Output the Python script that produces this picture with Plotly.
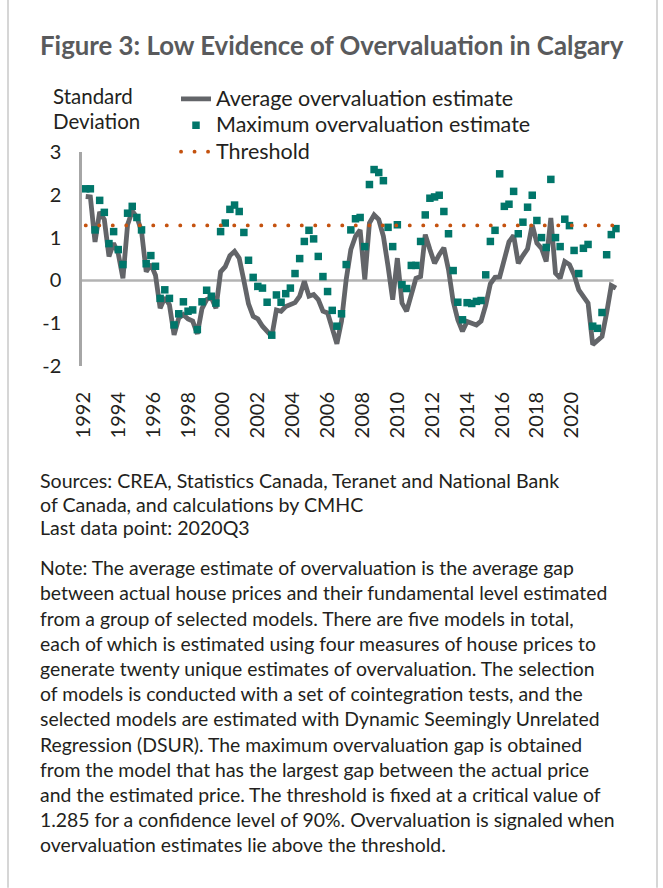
import plotly.graph_objects as go

# ---------------- data ----------------
YEAR_LABELS = ["1992", "1994", "1996", "1998", "2000", "2002", "2004", "2006",
               "2008", "2010", "2012", "2014", "2016", "2018", "2020"]

# Average overvaluation estimate (quarterly, 1992Q1 - 2020Q3)
avg_estimate = [
    1.96, 1.95, 0.90, 1.60, 1.42, 0.56, 0.87, 0.62, 0.05, 1.30,
    1.62, 1.48, 1.15, 0.20, 0.38, 0.12, -0.65, -0.40, -0.57, -1.27,
    -0.88, -0.80, -0.90, -0.95, -1.25, -0.66, -0.45, -0.40, -0.65, 0.20,
    0.32, 0.58, 0.68, 0.52, 0.00, -0.55, -0.84, -0.90, -1.07, -1.18,
    -1.31, -0.69, -0.72, -0.61, -0.57, -0.52, -0.37, -0.02, -0.37, -0.33,
    -0.45, -0.72, -0.76, -1.15, -1.48, -0.95, 0.02, 0.72, 1.03, 1.18,
    0.02, 1.34, 1.53, 1.42, 1.03, 0.33, -0.45, 0.52, -0.53, -0.72,
    -0.30, 0.05, 0.09, 1.07, 0.72, 0.40, 0.60, 0.76, 0.25, -0.49,
    -0.92, -1.19, -0.96, -1.00, -1.04, -0.95, -0.58, -0.08, 0.07, 0.08,
    0.45, 0.90, 1.05, 0.40, 0.58, 0.74, 1.30, 0.87, 0.75, 0.44,
    1.46, 0.17, 0.05, 0.44, 0.37, 0.13, -0.22, -0.37, -0.53, -1.50,
    -1.39, -1.31, -0.76, -0.12, -0.18,
]

# Maximum overvaluation estimate
max_estimate = [
    2.14, 2.14, 1.18, 1.87, 1.59, 0.86, 1.14, 0.72, 0.37, 1.57,
    1.73, 1.47, 1.18, 0.39, 0.58, 0.33, -0.42, -0.22, -0.42, -1.04,
    -0.78, -0.50, -0.72, -0.69, -1.15, -0.50, -0.23, -0.37, -0.53, 1.14,
    1.34, 1.66, 1.76, 1.61, 1.12, 0.47, 0.07, -0.14, -0.18, -0.51,
    -1.28, -0.34, -0.51, -0.31, -0.18, 0.16, 0.51, 0.91, 1.17, 0.97,
    0.56, 0.09, -0.26, -0.70, -1.07, -0.78, 0.37, 1.18, 1.44, 1.47,
    0.79, 2.24, 2.59, 2.52, 2.33, 1.24, 0.79, 1.30, -0.10, -0.19,
    0.35, 0.35, 0.91, 1.53, 1.92, 1.95, 1.99, 1.61, 1.09, 0.23,
    -0.51, -0.92, -0.52, -0.54, -0.49, -0.47, 0.13, 0.91, 1.17, 2.49,
    1.73, 1.78, 2.08, 1.09, 1.36, 1.71, 1.99, 1.40, 1.00, 0.77,
    2.36, 1.00, 0.79, 1.43, 1.28, 0.70, 0.16, 0.75, 0.84, -1.07,
    -1.12, -0.75, 0.60, 1.07, 1.21,
]

THRESHOLD = 1.285
Y_TICKS = [-2, -1, 0, 1, 2, 3]
Y_TICK_TEXT = ["-2", "-1", "0", "1", "2", "3"]

SERIES_NAMES = ["Average overvaluation estimate",
                "Maximum overvaluation estimate",
                "Threshold"]
TITLE = "Figure 3: Low Evidence of Overvaluation in Calgary"
Y_TITLE_LINES = ["Standard", "Deviation"]
SOURCE_LINES = [
    "Sources: CREA, Statistics Canada, Teranet and National Bank",
    "of Canada, and calculations by CMHC",
    "Last data point: 2020Q3",
]
NOTE_LINES = [
    "Note: The average estimate of overvaluation is the average gap",
    "between actual house prices and their fundamental level estimated",
    "from a group of selected models. There are five models in total,",
    "each of which is estimated using four measures of house prices to",
    "generate twenty unique estimates of overvaluation. The selection",
    "of models is conducted with a set of cointegration tests, and the",
    "selected models are estimated with Dynamic Seemingly Unrelated",
    "Regression (DSUR). The maximum overvaluation gap is obtained",
    "from the model that has the largest gap between the actual price",
    "and the estimated price. The threshold is fixed at a critical value of",
    "1.285 for a confidence level of 90%. Overvaluation is signaled when",
    "overvaluation estimates lie above the threshold.",
]

# ---------------- layout helpers ----------------
W, H = 663, 888
L, R, T, B = 82, 622, 152.3, 366.3
FONT = "Lato, 'Open Sans', sans-serif"
TXT = "#231F20"
LEG_SIZE = 21.5


def px_x(p):
    return (p - L) / (R - L)


def px_y(p):
    return (B - p) / (B - T)


def sized(s, size):
    return "<span style='font-size:%spx'>%s</span>" % (size, s)


x_idx = list(range(len(avg_estimate)))
tick_first, tick_step = -0.5, 7.5
tick_pos = [tick_first + tick_step * k for k in range(len(YEAR_LABELS))]

fig = go.Figure()
fig.add_trace(go.Scatter(
    x=x_idx, y=avg_estimate, mode="lines",
    name=sized(SERIES_NAMES[0], LEG_SIZE),
    line=dict(color="#636569", width=4.8),
))
fig.add_trace(go.Scatter(
    x=x_idx, y=max_estimate, mode="markers",
    name=sized(SERIES_NAMES[1], LEG_SIZE),
    marker=dict(symbol="square", size=7.5, color="#00766A"),
))
fig.add_trace(go.Scatter(
    x=[x_idx[0], x_idx[-1]], y=[THRESHOLD, THRESHOLD], mode="lines",
    name=sized(SERIES_NAMES[2], LEG_SIZE),
    line=dict(color="#C4520F", width=3.8, dash="3.6px,9.8px"),
))

annotations = []


def ann(text, x, y, size, color=TXT, xanchor="left"):
    annotations.append(dict(
        text=text, x=px_x(x), y=px_y(y), xref="paper", yref="paper",
        xanchor=xanchor, yanchor="middle", showarrow=False,
        font=dict(family=FONT, size=size, color=color), align="left",
    ))


ann("<b>" + TITLE + "</b>", 38, 45, 25.8, color="#595A5C")
for k, line in enumerate(Y_TITLE_LINES):
    ann(line, 51, 96.3 + 24.8 * k, 20.5)
for k, line in enumerate(SOURCE_LINES):
    ann(line, 38, 481 + 23.5 * k, 19.6)
for k, line in enumerate(NOTE_LINES):
    ann(line, 38, 568 + 25.2 * k, 19.4)

shapes = [
    dict(type="line", xref="x", yref="y", x0=-0.8, x1=113.5, y0=0, y1=0,
         line=dict(color="#B3B3B3", width=2.5), layer="below"),
    dict(type="line", xref="paper", yref="paper", x0=px_x(8), x1=px_x(8),
         y0=px_y(0), y1=px_y(H), line=dict(color="#C8C8C8", width=1.5)),
    dict(type="line", xref="paper", yref="paper", x0=px_x(657), x1=px_x(657),
         y0=px_y(0), y1=px_y(H), line=dict(color="#C8C8C8", width=1.5)),
]

fig.update_layout(
    width=W, height=H,
    margin=dict(l=L, r=W - R, t=T, b=H - B, pad=0),
    paper_bgcolor="white", plot_bgcolor="white",
    font=dict(family=FONT, color=TXT),
    showlegend=True,
    legend=dict(
        x=px_x(176), y=px_y(81), xanchor="left", yanchor="top",
        font=dict(family=FONT, size=18, color=TXT),
        bgcolor="rgba(0,0,0,0)", borderwidth=0,
    ),
    xaxis=dict(
        range=[-0.8, 115.3], tickmode="array", tickvals=tick_pos,
        ticktext=YEAR_LABELS, tickangle=-90, showgrid=False, zeroline=False,
        showline=False, ticks="", ticklabelstandoff=21,
        tickfont=dict(family=FONT, size=20, color=TXT),
    ),
    yaxis=dict(
        range=[-2, 3], tickmode="array", tickvals=Y_TICKS, ticktext=Y_TICK_TEXT,
        showgrid=False, zeroline=False, showline=True, linecolor="#A6A6A6",
        linewidth=2.5, ticks="", ticklabelstandoff=14,
        tickfont=dict(family=FONT, size=20, color=TXT),
    ),
    annotations=annotations,
    shapes=shapes,
)

post = """
document.body.style.margin = '0';
try {
  var gd = document.getElementById('{plot_id}');
  var tr = gd.querySelectorAll('.scatterlayer .trace');
  var lg = gd.querySelectorAll('.legend .traces');
  [tr[2], lg[2]].forEach(function(t) {
    if (!t) return;
    t.querySelectorAll('path.js-line').forEach(function(p) {
      p.style.strokeLinecap = 'round';
      p.style.strokeDasharray = '0.1px,13.4px';
    });
  });
} catch (e) {}
"""

fig.write_html("out.html", post_script=post, config={"displayModeBar": False})
